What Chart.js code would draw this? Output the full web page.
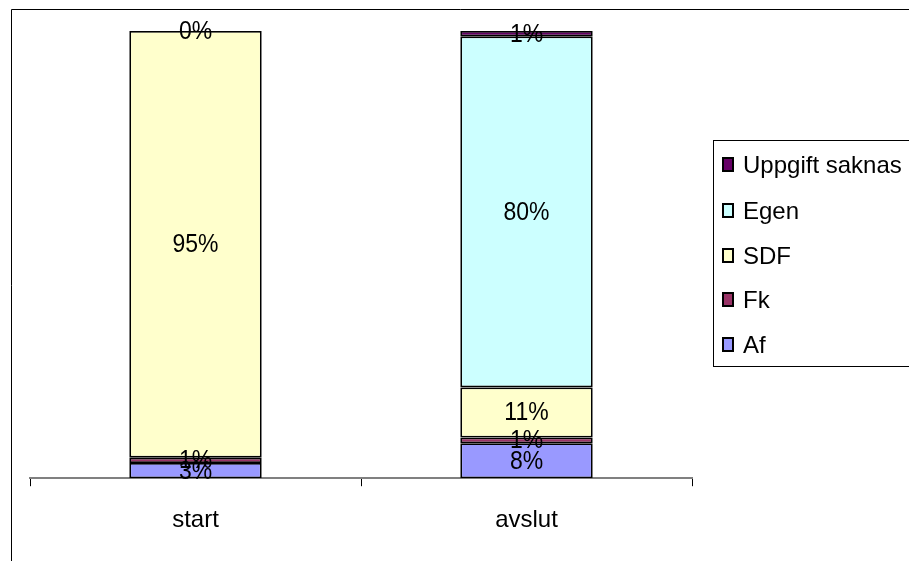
<!DOCTYPE html>
<html>
<head>
<meta charset="utf-8">
<script src="https://cdn.jsdelivr.net/npm/chart.js@4"></script>
<style>
html,body{margin:0;padding:0;background:#fff;}
#wrap{width:909px;height:561px;position:relative;}
</style>
</head>
<body>
<div id="wrap"><canvas id="c" width="909" height="561"></canvas></div>
<script>
const categories = ["start", "avslut"];
const seriesNames = ["Af", "Fk", "SDF", "Egen", "Uppgift saknas"];
const af = [3.4, 7.8];
const fk = [1.2, 1.3];
const sdf = [95.4, 11.2];
const egen = [0, 78.5];
const uppgiftSaknas = [null, 1.2];
const valueLabels = {
  "Af": ["3%", "8%"],
  "Fk": ["1%", "1%"],
  "SDF": ["95%", "11%"],
  "Egen": ["0%", "80%"],
  "Uppgift saknas": [null, "1%"]
};
const colors = ["#9999FF", "#993366", "#FFFFCC", "#CCFFFF", "#660066"];
const seriesData = [af, fk, sdf, egen, uppgiftSaknas];

const FONT = "'Liberation Sans', Arial, sans-serif";

const datasets = seriesNames.map((n, i) => ({
  label: n,
  data: seriesData[i],
  backgroundColor: colors[i],
  borderColor: "#000",
  borderWidth: 1.8,
  borderSkipped: false,
  categoryPercentage: 1,
  barPercentage: 0.4
}));

const framePlugin = {
  id: "frame",
  beforeDraw(chart) {
    const ctx = chart.ctx;
    ctx.save();
    ctx.fillStyle = "#fff";
    ctx.fillRect(0, 0, chart.width, chart.height);
    ctx.strokeStyle = "#000";
    ctx.lineWidth = 1;
    ctx.beginPath();
    ctx.moveTo(11.5, chart.height + 2);
    ctx.lineTo(11.5, 9.5);
    ctx.lineTo(chart.width + 2, 9.5);
    ctx.stroke();
    ctx.restore();
  }
};

const labelPlugin = {
  id: "labels",
  afterDatasetsDraw(chart) {
    const ctx = chart.ctx;
    ctx.save();
    ctx.font = "23px " + FONT;
    ctx.fillStyle = "#000";
    ctx.textAlign = "center";
    ctx.textBaseline = "middle";
    const sy = 1.1;
    chart.data.datasets.forEach((ds, di) => {
      const meta = chart.getDatasetMeta(di);
      meta.data.forEach((el, i) => {
        const txt = valueLabels[ds.label][i];
        if (txt == null || ds.data[i] == null) return;
        const p = el.getProps(["x", "y", "base"], true);
        const cy = (p.y + p.base) / 2 + 1;
        ctx.save();
        ctx.translate(p.x, cy);
        ctx.scale(1, sy);
        ctx.fillText(txt, 0, 0);
        ctx.restore();
      });
    });
    ctx.restore();
  },
  afterDraw(chart) {
    const ctx = chart.ctx;
    ctx.save();
    ctx.strokeStyle = "#000";
    ctx.lineWidth = 1;
    ctx.strokeRect(713.5, 140.5, 220, 226);
    ctx.font = "24px " + FONT;
    ctx.textBaseline = "middle";
    ctx.textAlign = "left";
    const ys = [165, 211, 256, 300, 345];
    for (let k = 0; k < seriesNames.length; k++) {
      const i = seriesNames.length - 1 - k;
      const y = ys[k];
      ctx.fillStyle = colors[i];
      ctx.fillRect(723, y - 7, 10, 13);
      ctx.strokeStyle = "#000";
      ctx.lineWidth = 2;
      ctx.strokeRect(723, y - 7, 10, 13);
      ctx.fillStyle = "#000";
      ctx.fillText(seriesNames[i], 743, y + 1);
    }
    ctx.restore();
  }
};

new Chart(document.getElementById("c"), {
  type: "bar",
  data: { labels: categories, datasets },
  options: {
    responsive: false,
    animation: false,
    devicePixelRatio: 1,
    layout: { padding: { left: 30, right: 217, top: 31, bottom: 6 } },
    plugins: { legend: { display: false }, tooltip: { enabled: false } },
    scales: {
      x: {
        stacked: true,
        offset: true,
        grid: { offset: true, drawOnChartArea: false, drawTicks: true, tickLength: 8, color: "#000", lineWidth: 1 },
        border: { display: true, color: "#808080", width: 2 },
        ticks: { color: "#000", font: { size: 24, family: FONT }, padding: 20 }
      },
      y: {
        stacked: true,
        display: false,
        min: 0,
        max: 100
      }
    }
  },
  plugins: [framePlugin, labelPlugin]
});
</script>
</body>
</html>
